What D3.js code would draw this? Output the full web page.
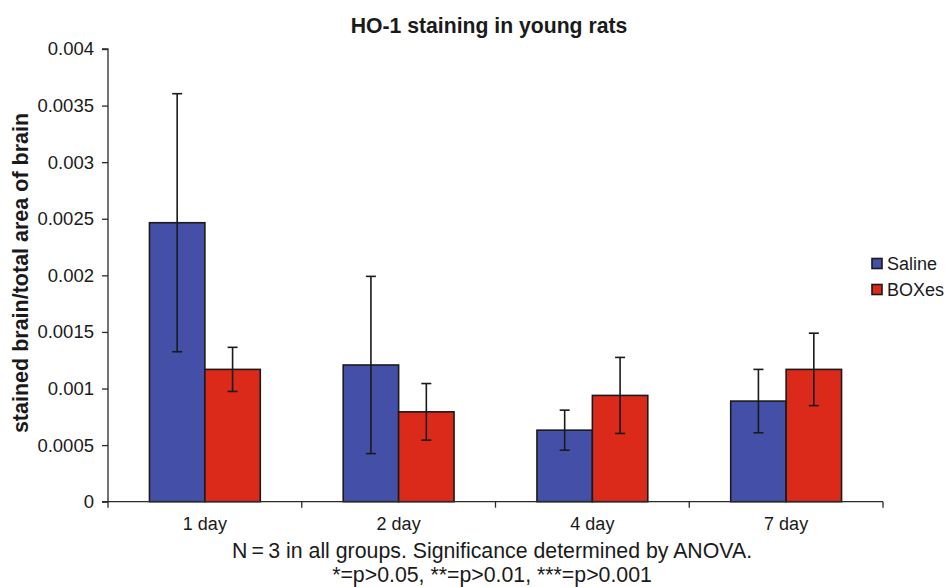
<!DOCTYPE html>
<html>
<head>
<meta charset="utf-8">
<script src="https://cdn.jsdelivr.net/npm/d3@7"></script>
<style>
  html, body { margin: 0; padding: 0; background: #fff; }
  svg text { font-family: "Liberation Sans", Arial, Helvetica, sans-serif; fill: #1a1a1a; }
</style>
</head>
<body>
<svg id="chart" width="947" height="587"></svg>
<script>
const categories = ["1 day", "2 day", "4 day", "7 day"];
const seriesNames = ["Saline", "BOXes"];
const salineValues = [0.002465, 0.001208, 0.000632, 0.000889];
const salineErrors = [0.001140, 0.000783, 0.000177, 0.000280];
const boxesValues = [0.001169, 0.000794, 0.000939, 0.001169];
const boxesErrors = [0.000195, 0.000250, 0.000336, 0.000320];
const yTicks = [0, 0.0005, 0.001, 0.0015, 0.002, 0.0025, 0.003, 0.0035, 0.004];
const yTickLabels = ["0", "0.0005", "0.001", "0.0015", "0.002", "0.0025", "0.003", "0.0035", "0.004"];
const colors = ["#4450A8", "#DC2A1A"];

const svg = d3.select("#chart");
const margin = {left: 108, right: 64, top: 49, bottom: 86};
const W = 947, H = 587;
const x0 = margin.left, x1 = W - margin.right;
const yBottom = H - margin.bottom + 0.7, yTop = margin.top;

const x = d3.scaleBand().domain(categories).range([x0, x1]).padding(0);
const y = d3.scaleLinear().domain([0, 0.004]).range([yBottom, yTop]);
const barW = x.bandwidth() * 0.286;

const data = categories.map((c, i) => ({
  cat: c,
  vals: [
    {s: 0, v: salineValues[i], e: salineErrors[i]},
    {s: 1, v: boxesValues[i], e: boxesErrors[i]}
  ]
}));

// bars
const g = svg.append("g");
data.forEach(d => {
  const cx = x(d.cat) + x.bandwidth() / 2;
  d.vals.forEach(b => {
    const bx = cx + (b.s === 0 ? -barW : 0);
    g.append("rect")
      .attr("x", bx).attr("y", y(b.v))
      .attr("width", barW).attr("height", y(0) - y(b.v))
      .attr("fill", colors[b.s])
      .attr("stroke", "#1a1a1a").attr("stroke-width", 1.6);
  });
});

// error bars
data.forEach(d => {
  const cx = x(d.cat) + x.bandwidth() / 2;
  d.vals.forEach(b => {
    const ex = cx + (b.s === 0 ? -barW / 2 : barW / 2);
    const hi = y(b.v + b.e), lo = y(b.v - b.e);
    g.append("line").attr("x1", ex).attr("x2", ex).attr("y1", hi).attr("y2", lo)
      .attr("stroke", "#1a1a1a").attr("stroke-width", 1.6);
    [hi, lo].forEach(yy => {
      g.append("line").attr("x1", ex - 5).attr("x2", ex + 5).attr("y1", yy).attr("y2", yy)
        .attr("stroke", "#1a1a1a").attr("stroke-width", 1.6);
    });
  });
});

// y axis
const yAxis = d3.axisLeft(y).tickValues(yTicks)
  .tickFormat((d, i) => yTickLabels[i]).tickSize(6).tickPadding(8);
const ya = svg.append("g").attr("transform", `translate(${x0},0)`).call(yAxis);
ya.select(".domain").attr("stroke", "#2a2a2a").attr("stroke-width", 1.3).attr("d", `M-6,${yTop}H0V${yBottom}H-6`);
ya.selectAll(".tick line").attr("stroke", "#2a2a2a").attr("stroke-width", 1.3);
ya.selectAll(".tick text").style("font-size", "18.5px").attr("fill", "#1a1a1a")
  .style("font-family", "'Liberation Sans', Arial, sans-serif");

// x axis
const xa = svg.append("g").attr("transform", `translate(0,${yBottom})`);
xa.append("line").attr("x1", x0).attr("x2", x1).attr("y1", 0).attr("y2", 0)
  .attr("stroke", "#2a2a2a").attr("stroke-width", 1.3);
const boundaries = categories.map(c => x(c)).concat([x1]);
boundaries.forEach(bx => {
  xa.append("line").attr("x1", bx).attr("x2", bx).attr("y1", 0).attr("y2", 6)
    .attr("stroke", "#2a2a2a").attr("stroke-width", 1.3);
});
categories.forEach(c => {
  xa.append("text").attr("x", x(c) + x.bandwidth() / 2).attr("y", 28)
    .attr("text-anchor", "middle").style("font-size", "18px").text(c);
});

// title
svg.append("text").attr("x", 489).attr("y", 33).attr("text-anchor", "middle")
  .style("font-size", "21.2px").style("font-weight", "bold").text("HO-1 staining in young rats");

// y label
svg.append("text").attr("transform", `translate(27.5,${273}) rotate(-90)`)
  .attr("text-anchor", "middle").style("font-size", "21.5px").style("font-weight", "bold")
  .text("stained brain/total area of brain");

// footnote
svg.append("text").attr("x", 492).attr("y", 558).attr("text-anchor", "middle")
  .style("font-size", "21.3px").text("N\u2009=\u20093 in all groups. Significance determined by ANOVA.");
svg.append("text").attr("x", 492).attr("y", 581.5).attr("text-anchor", "middle")
  .style("font-size", "21.3px").text("*=p>0.05, **=p>0.01, ***=p>0.001");

// legend
const leg = svg.append("g").attr("transform", "translate(872,0)");
seriesNames.forEach((s, i) => {
  const cy = 263.5 + i * 26;
  leg.append("rect").attr("x", 0).attr("y", cy - 5).attr("width", 10).attr("height", 10)
    .attr("fill", colors[i]).attr("stroke", "#1a1a1a").attr("stroke-width", 1.6);
  leg.append("text").attr("x", 15).attr("y", cy + 6.5).style("font-size", "18px").text(s);
});
</script>
</body>
</html>
